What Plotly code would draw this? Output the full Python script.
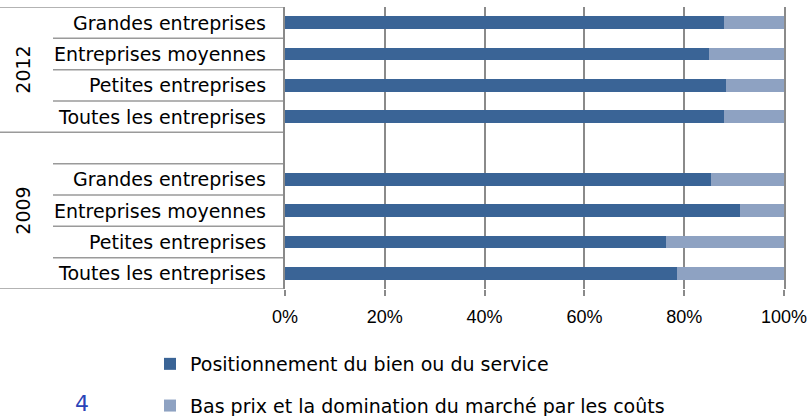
import plotly.graph_objects as go

years = ["2009", "2012"]
company_types = ["Toutes les entreprises", "Petites entreprises",
                 "Entreprises moyennes", "Grandes entreprises"]
# share (%) for each year, in company_types order
positionnement = {"2009": [78.6, 76.4, 91.1, 85.4],
                  "2012": [87.9, 88.3, 85.0, 87.9]}
bas_prix = {y: [round(100 - v, 1) for v in positionnement[y]] for y in years}
series_names = ["Positionnement du bien ou du service",
                "Bas prix et la domination du marché par les coûts"]
x_ticks = [0, 20, 40, 60, 80, 100]
x_tick_labels = ["0%", "20%", "40%", "60%", "80%", "100%"]

DARK = "#3A6496"
LIGHT = "#8EA2C2"
GRID = "#8A8A8A"
SEP = "#9A9A9A"
FONT = "DejaVu Sans"
LABEL_SIZE = 19

# category keys, bottom to top, with an empty slot at the top of the 2009 group
cats, v1, v2, labels = [], [], [], []
for y in years:
    for i, t in enumerate(company_types):
        cats.append(f"{y} | {t}")
        v1.append(positionnement[y][i])
        v2.append(bas_prix[y][i])
        labels.append(t)
    if y == "2009":
        cats.append(" ")
        v1.append(None)
        v2.append(None)
        labels.append("")

fig = go.Figure()
fig.add_trace(go.Bar(y=cats, x=v1, orientation="h", name=series_names[0],
                     marker=dict(color=DARK, line=dict(width=0)), width=0.4,
                     legendgroup="a"))
fig.add_trace(go.Bar(y=cats, x=v2, orientation="h", name=series_names[1],
                     marker=dict(color=LIGHT, line=dict(width=0)), width=0.4,
                     legendgroup="b"))

L, R, T, B = 285, 23, 7, 127
W, H = 807, 416
pw, ph = W - L - R, H - T - B

def px_x(p):
    return (p - L) / pw

def px_y(p):
    return (H - B - p) / ph

annotations = []
for c, lab in zip(cats, labels):
    if lab:
        annotations.append(dict(x=px_x(268), xref="paper", y=c, yref="y",
                                text=lab, showarrow=False, xanchor="right",
                                yanchor="middle",
                                font=dict(family=FONT, size=LABEL_SIZE, color="#000")))
# year labels (2009 group includes the empty slot)
for yr, pos in (("2009", 2), ("2012", 6.5)):
    annotations.append(dict(x=px_x(23), xref="paper", y=pos, yref="y", text=yr,
                            textangle=-90, showarrow=False, xanchor="center",
                            yanchor="middle",
                            font=dict(family=FONT, size=LABEL_SIZE, color="#000")))
annotations.append(dict(x=px_x(82), xref="paper", y=px_y(403), yref="paper",
                        text="4", showarrow=False, xanchor="center",
                        yanchor="middle",
                        font=dict(family=FONT, size=22, color="#2A44B8")))

shapes = []
n = len(cats)
for k in range(n + 1):
    pos = k - 0.5
    full = pos in (-0.5, 4.5, n - 0.5)
    shapes.append(dict(type="line", xref="paper", yref="y",
                       x0=px_x(0) if full else px_x(53), x1=0,
                       y0=pos, y1=pos, line=dict(color=SEP, width=1.5),
                       layer="below"))

fig.update_layout(
    width=W, height=H, margin=dict(l=L, r=R, t=T, b=B, autoexpand=False),
    barmode="stack", plot_bgcolor="white", paper_bgcolor="white",
    showlegend=True,
    legend=dict(x=px_x(150), y=px_y(345), xanchor="left", yanchor="top",
                orientation="v", traceorder="grouped", tracegroupgap=14,
                font=dict(family=FONT, size=LABEL_SIZE, color="#000"),
                bgcolor="rgba(0,0,0,0)"),
    xaxis=dict(range=[0, 100], tickvals=x_ticks, ticktext=x_tick_labels,
               showgrid=True, gridcolor=GRID, gridwidth=1.5, zeroline=False,
               ticks="outside", ticklen=6, tickcolor=GRID, tickwidth=1.5,
               ticklabelstandoff=5, ticklabeloverflow="allow",
               tickfont=dict(family="Liberation Sans", size=18, color="#000"),
               showline=False, fixedrange=True),
    yaxis=dict(type="category", categoryorder="array", categoryarray=cats,
               range=[-0.5, n - 0.5], showticklabels=False, showgrid=False,
               zeroline=False, showline=True, mirror=True, linecolor=GRID,
               linewidth=1.5, ticks="", fixedrange=True),
    annotations=annotations, shapes=shapes,
)

fig.write_html("out.html", config={"displayModeBar": False},
               post_script="document.body.style.margin='0';document.body.style.overflow='hidden';")
